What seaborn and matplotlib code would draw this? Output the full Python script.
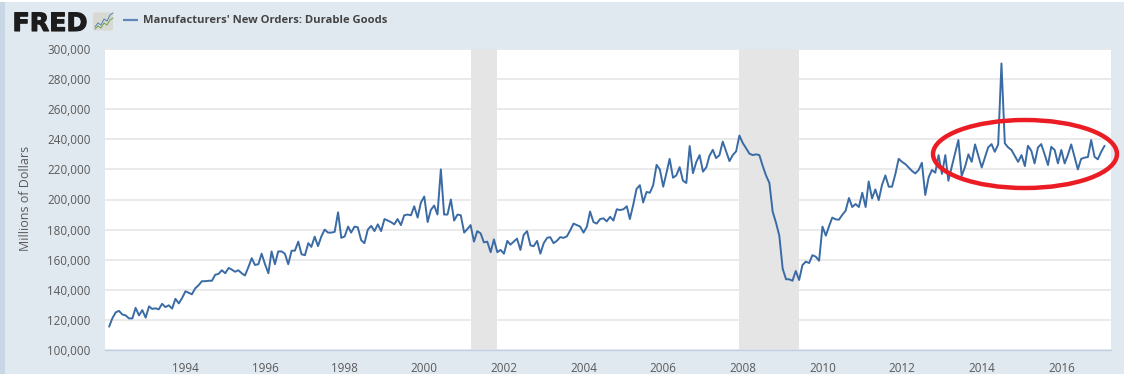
import matplotlib
matplotlib.use("Agg")
import matplotlib.pyplot as plt
import matplotlib.patheffects as pe
from matplotlib.patches import Ellipse, FancyBboxPatch, Rectangle
import numpy as np
import pandas as pd
import seaborn as sns

# Values in thousands of millions of dollars (monthly from 1992-02)
orders_a = [115.5,121,125,126,123.6,123,121,121,128,123,
            126.5,121.5,129,127.3,127.7,127,130.7,128.5,129.7,127.5,
            134,131,134.5,139,138,137,141,143,145.7,145.7,
            146,146,150,150.6,153,151,154.5,153.5,152,153,
            151,149.5,155,161,156.5,157,164,157,151,165.5,
            157,165.5,165.5,164,157,166,166,172,163.6,163,
            171,168.5,175.3,169,175.5,180,178,178,178.5,191.5,
            174.5,175.5,182,178,182,181.5,173,171,180,182.5,
            179,183.5,179,187,186,185,183.5,187,183,189.5,
            190,189.5,195.5,188,198,202]
orders_b = [185,193,196,190,220,190,190,200,186,190,
            189.5,178,180.5,183,172,179,177.5,171.5,172,165,
            173.5,165,166.5,164,172.5,170,172,174,166.5,176.5,
            179,169.5,169,172.5,164,171,174.5,175,171,172.5,
            175,174.5,175.5,179.5,184,183,182,178,182,192,
            185,184,187,187.5,185.5,188.5,186,193.5,193,193.5,
            195.5,187,196.5,207,209.5,198,205,204.5,209.5,223,
            220,208.5,218,227,214.5,216,221.5,212.5,211,235.5,
            217.5,225,229.5,218.5,221.5,229,233,227.5,229.5,238.5,
            232,225.5,229.5,232,242.5]
orders_c = [237.5,234,230.5,229.5,230,229.5,222.5,216,211,192,
            184.5,176,154,147,147,146,152.5,146.5,156.4,158.7,
            157.8,163,162,159.3,182,176,182,188,186.8,186.6,
            189.7,192.5,201,195,197,195,204.5,195,212,200.7,
            206.7,199.6,209.6,216,208.5,208.5,217,227,225,223.5,
            221.3,219,217.3,219.6,224.4,203,214.7,219.6,217.8,229.5,
            217,229.5,212.5,221.8,230.6,239.5,215.6,221.8,230,225,
            236.6,229,221.3,228.4,234.6,236.8,231.7,236.6,290.4,237.3,
            234.6,232.9,228.9,225,229.5,222.2,235.7,232.4,224,234.6,
            236.8,230,222.9,235,232.9,224,232.9,224,229.5,236.6,
            228.4,220,227,227.8,228.2,239.5,228.4,226.7,231.7,235.7]
start_month = "1992-02-01"
recession_starts = ["2001-03-01", "2007-12-01"]
recession_ends = ["2001-11-01", "2009-06-01"]
y_ticks = [100000 + 20000 * k for k in range(11)]
x_years = list(range(1992, 2017, 2))
series_name = "Manufacturers' New Orders: Durable Goods"
y_title = "Millions of Dollars"
icon_blue = [95, 98, 101, 104, 107, 110, 113], [27, 23, 25, 19, 21, 15, 13]
icon_green = [95, 98, 101, 104, 107, 110, 113], [29, 26, 28, 23, 25, 20, 18]

BG = "#E1E9F0"
LINE = "#3A6BA5"
GRID = "#E6E6E6"
AXIS = "#C0D0E0"
TXT = "#5A5A5A"

sns.set_theme(style="white")
plt.rcParams["font.family"] = ["Open Sans", "DejaVu Sans"]

values = np.array(orders_a + orders_b + orders_c) * 1000
dates = pd.date_range(start_month, periods=len(values), freq="MS")
df = pd.DataFrame({"date": dates, "orders": values})

W, H = 1124, 374
fig = plt.figure(figsize=(W / 100, H / 100), dpi=100, facecolor=BG)
ax = fig.add_axes([105 / W, (H - 350) / H, 1006 / W, 301 / H], facecolor="white")

for s, e in zip(recession_starts, recession_ends):
    ax.axvspan(pd.Timestamp(s), pd.Timestamp(e), color="#E5E5E5", lw=0, zorder=1.5)

sns.lineplot(data=df, x="date", y="orders", ax=ax, color=LINE, lw=1.4, zorder=3,
             errorbar=None, legend=False)

ax.set_xlim(pd.Timestamp("1991-12-25"), pd.Timestamp("2017-04-01"))
ax.set_ylim(100000, 300000)
ax.set_yticks(y_ticks)
ax.set_yticklabels([f"{v:,}" for v in y_ticks])
ax.set_xticks([pd.Timestamp(f"{y}-01-01") for y in x_years])
ax.set_xticklabels(["" if y == 1992 else str(y) for y in x_years])
ax.set_xlabel("")
ax.set_ylabel(y_title, fontsize=9.0, color=TXT, labelpad=0)
ax.yaxis.set_label_coords((32 - 105) / 1006, 0.503)
ax.grid(axis="y", color=GRID, lw=1.2, zorder=1)
ax.set_axisbelow(True)
for name, sp in ax.spines.items():
    sp.set_visible(name == "bottom")
ax.spines["bottom"].set_color(AXIS)
ax.spines["bottom"].set_linewidth(1.0)
ax.tick_params(axis="y", length=0, pad=10.5, labelsize=8.4, labelcolor=TXT)
ax.tick_params(axis="x", length=5, width=0.8, color=AXIS, pad=4, labelsize=8.4, labelcolor=TXT)

# Overlay in pixel coordinates for the page furniture
deco = fig.add_axes([0, 0, 1, 1], facecolor="none", zorder=10)
deco.set_xlim(0, W)
deco.set_ylim(H, 0)
deco.axis("off")
deco.add_patch(Rectangle((0, 0), 5, H, color="#C9D6E6", lw=0))
deco.add_patch(Rectangle((0, 0), W, 1.5, color="white", lw=0))

deco.text(12.5, 31, "FRED", family=["DejaVu Sans"], fontweight="bold", fontsize=18.2,
          color="#1C1C1C", va="baseline", ha="left",
          path_effects=[pe.withStroke(linewidth=0.8, foreground="#1C1C1C")])
deco.add_patch(FancyBboxPatch((93, 12.5), 20, 18, boxstyle="round,pad=0,rounding_size=2",
                              fc="#D9D9D4", ec="none"))
deco.plot(icon_blue[0], icon_blue[1], color="#4F7FB0", lw=0.7)
deco.plot(icon_green[0], icon_green[1], color="#6FA04A", lw=0.7)
deco.plot([122.5, 137.5], [20, 20], color="#5F88B8", lw=1.6, solid_capstyle="butt")
deco.text(143, 20, series_name, fontsize=8.1, fontweight="bold", color="#444444",
          ha="left", va="center", family=["Open Sans", "DejaVu Sans"])

deco.add_patch(Ellipse((1025, 154), 184, 68, fc="none", ec="#EC1C24", lw=3.2, zorder=5))

fig.savefig("out.png", dpi=100, facecolor=BG)
